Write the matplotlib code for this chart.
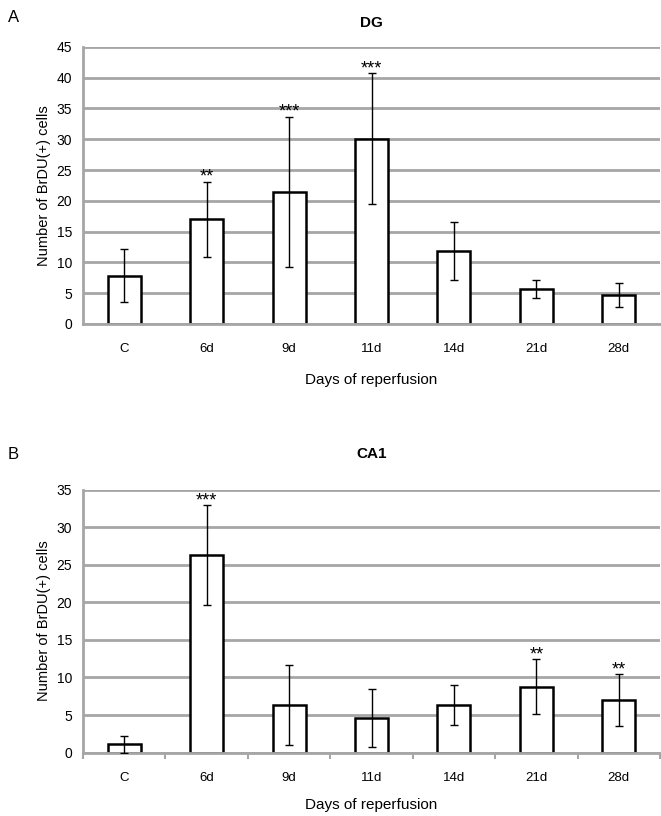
import matplotlib.pyplot as plt
import numpy as np

plt.rcParams['font.family'] = ['Liberation Sans', 'DejaVu Sans']

days = ["C", "6d", "9d", "11d", "14d", "21d", "28d"]

dg_mean = [7.8, 17.0, 21.4, 30.1, 11.8, 5.7, 4.7]
dg_err = [4.3, 6.1, 12.2, 10.6, 4.7, 1.45, 2.0]
dg_stars = ["", "**", "***", "***", "", "", ""]

ca1_mean = [1.1, 26.35, 6.3, 4.65, 6.35, 8.8, 7.0]
ca1_err = [1.15, 6.65, 5.3, 3.85, 2.7, 3.7, 3.45]
ca1_stars = ["", "***", "", "", "", "**", "**"]

GRID = "#a6a6a6"


def panel(ax, title, mean, err, stars, ymax, ticks_x, title_pad, xlab_y):
    x = np.arange(len(days))
    ax.set_axisbelow(True)
    ax.yaxis.grid(True, color=GRID, linewidth=2)
    ax.bar(x, mean, width=0.4, color="white", edgecolor="black", linewidth=1.8,
           zorder=2)
    ax.errorbar(x, mean, yerr=err, fmt="none", ecolor="black", elinewidth=1,
                capsize=3, capthick=1, zorder=3)
    for xi, m, e, s in zip(x, mean, err, stars):
        if s:
            ax.text(xi, m + e - 0.6, s, ha="center", va="bottom", fontsize=13)
    ax.set_xlim(-0.5, len(days) - 0.5)
    ax.set_ylim(0, ymax)
    ax.set_yticks(np.arange(0, ymax + 1, 5))
    ax.set_xticks(x)
    ax.set_xticklabels(days)
    if ticks_x:
        ax.set_xticks(np.arange(-0.5, len(days) + 0.5, 1), minor=True)
        ax.tick_params(axis="x", which="minor", length=4, color=GRID, width=1.5)
    ax.tick_params(axis="x", which="major", length=0, pad=14, labelsize=9.5)
    ax.tick_params(axis="y", length=0, pad=8, labelsize=10)
    for side in ["top", "right"]:
        ax.spines[side].set_visible(False)
    for side in ["left", "bottom"]:
        ax.spines[side].set_color(GRID)
        ax.spines[side].set_linewidth(2)
    ax.set_title(title, fontsize=11, fontweight="bold", pad=title_pad)
    ax.set_xlabel("Days of reperfusion", fontsize=11, va="center")
    ax.xaxis.set_label_coords(0.5, xlab_y)
    ax.set_ylabel("Number of BrDU(+) cells", fontsize=10.5)


fig = plt.figure(figsize=(6.61, 8.16), dpi=100)
ax1 = fig.add_axes([0.1256, 0.603, 0.873, 0.3395])
ax2 = fig.add_axes([0.1256, 0.0776, 0.873, 0.3225])

panel(ax1, "DG", dg_mean, dg_err, dg_stars, 45, False, 14, -0.202)
panel(ax2, "CA1", ca1_mean, ca1_err, ca1_stars, 35, True, 22.5, -0.198)

fig.text(0.012, 0.988, "A", fontsize=12, va="top")
fig.text(0.012, 0.452, "B", fontsize=12, va="top")

fig.savefig("out.png", dpi=100)
